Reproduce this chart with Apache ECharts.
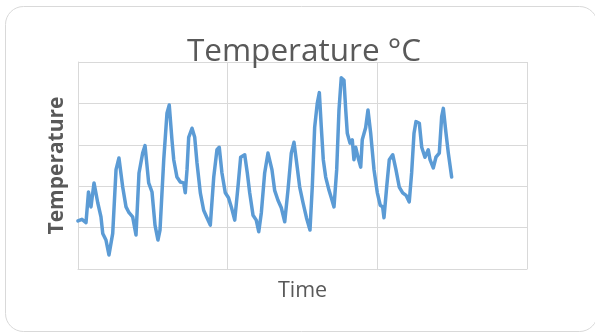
<!DOCTYPE html>
<html>
<head>
<meta charset="utf-8">
<script src="https://cdn.jsdelivr.net/npm/echarts@6/dist/echarts.min.js"></script>
<style>
html,body{margin:0;padding:0;background:#fff;}
#chart{width:595px;height:332px;}
</style>
</head>
<body>
<div id="chart"></div>
<script>
// Time of each reading (hours from start)
const hours = [0,3.8,7.7,10.1,12.5,15.4,19.0,22.1,23.8,26.9,29.8,33.4,36.6,39.4,43.0,46.2,49.1,52.6,55.8,58.7,62.2,64.5,68.0,71.2,74.1,76.9,78.9,82.5,85.6,87.8,90.4,92.1,95.2,98.4,101.7,103.2,104.9,106.5,109.7,112.3,114.5,117.7,120.9,124.1,127.3,130.6,133.7,135.9,138.5,141.7,144.8,147.5,150.8,153.9,156.5,160.4,162.9,165.2,168.4,171.5,173.9,176.4,179.6,182.8,184.4,186.6,189.2,192.4,195.6,198.9,202.0,205.2,207.8,210.0,213.3,216.5,219.8,223.2,225.4,227.7,230.2,232.2,234.1,236.0,238.3,241.5,243.7,246.3,248.9,251.1,253.3,255.9,257.6,259.1,261.7,263.9,265.5,267.2,269.4,272.0,273.5,276.8,279.0,281.6,284.8,288.0,290.8,293.1,294.4,297.0,299.5,302.8,305.9,309.1,312.4,315.6,318.7,321.0,323.3,325.2,328.4,330.7,333.8,337.0,338.7,341.8,344.4,347.6,349.9,351.5,353.8,356.3,359.5];
// Temperature readings (°C)
const temps = [15.8,16.0,15.6,19.3,17.5,20.4,18.0,16.3,14.3,13.5,11.7,14.3,22.0,23.4,19.9,17.5,16.8,16.3,14.1,21.6,24.0,24.9,20.4,19.3,15.3,13.5,14.7,23.2,28.8,29.8,25.6,23.2,21.1,20.5,20.4,19.2,22.0,25.9,27.0,25.9,22.8,19.2,17.1,16.2,15.3,21.1,24.4,24.7,21.6,19.2,18.6,17.5,15.9,19.9,23.5,23.8,21.6,19.2,16.5,15.9,14.5,16.8,21.6,24.0,24.1,22.0,19.5,18.3,17.4,15.7,19.5,24.0,25.3,23.2,19.9,18.0,16.2,14.7,19.9,27.1,30.0,31.3,27.1,23.2,21.1,19.5,18.6,17.5,22.0,29.2,33.1,32.8,29.2,26.4,25.2,25.6,23.2,24.7,23.5,22.3,25.6,27.1,29.2,26.4,22.0,19.2,17.7,17.5,16.2,19.9,23.2,23.8,22.0,19.9,19.2,18.9,18.1,21.6,26.4,27.8,27.6,24.7,23.5,24.4,23.2,22.2,23.5,24.0,28.4,29.4,26.7,24.0,21.1];

const seriesData = hours.map((h, i) => [h, temps[i]]);

const chart = echarts.init(document.getElementById('chart'), null, {renderer: 'canvas'});
chart.setOption({
  animation: false,
  backgroundColor: '#ffffff',
  graphic: [{
    type: 'rect',
    shape: {x: 5.5, y: 6.5, width: 592, height: 325, r: 18},
    style: {fill: 'none', stroke: '#d9d9d9', lineWidth: 1},
    silent: true,
    z: 0
  }],
  title: {
    text: 'Temperature °C',
    left: 299,
    textAlign: 'center',
    top: 31,
    textStyle: {fontFamily: 'Open Sans', fontSize: 31.5, fontWeight: 'normal', color: '#595959'}
  },
  grid: {left: 78, right: 68, top: 62, bottom: 63, containLabel: false},
  xAxis: {
    type: 'value',
    min: 0, max: 432, interval: 144,
    name: 'Time',
    nameLocation: 'middle',
    nameGap: 11,
    nameTextStyle: {fontFamily: 'Open Sans', fontSize: 21.5, color: '#595959', verticalAlign: 'top'},
    axisLine: {show: true, lineStyle: {color: '#d9d9d9', width: 1}},
    axisTick: {show: false},
    axisLabel: {show: false},
    splitLine: {show: true, lineStyle: {color: '#d9d9d9', width: 1}}
  },
  yAxis: {
    type: 'value',
    min: 10, max: 35, interval: 5,
    name: 'Temperature',
    nameLocation: 'middle',
    nameGap: 10,
    nameTextStyle: {fontFamily: 'Open Sans', fontSize: 21, fontWeight: 'bold', color: '#595959'},
    axisLine: {show: true, lineStyle: {color: '#d9d9d9', width: 1}},
    axisTick: {show: false},
    axisLabel: {show: false},
    splitLine: {show: true, lineStyle: {color: '#d9d9d9', width: 1}}
  },
  series: [{
    type: 'line',
    data: seriesData,
    showSymbol: false,
    smooth: false,
    lineStyle: {color: '#5b9bd5', width: 3.5, join: 'round', cap: 'round'},
    z: 3
  }]
});
</script>
</body>
</html>
